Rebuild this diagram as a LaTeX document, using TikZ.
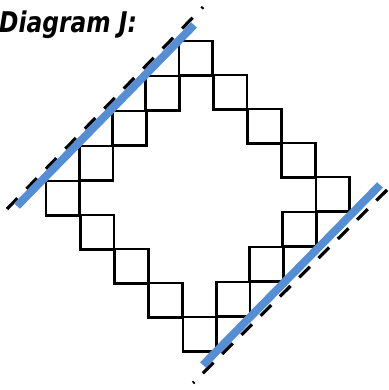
\documentclass[tikz,border=0pt]{standalone}
\usepackage{fontspec}
\newfontfamily\titlefont{DejaVu Sans}
\usepackage{graphicx}
\definecolor{lineblue}{RGB}{85,142,213}
\begin{document}
\begin{tikzpicture}[x=1pt,y=-1pt,
  cell/.style={draw=black,line width=2.6pt},
  bluebar/.style={draw=lineblue,line width=8pt},
  dashline/.style={draw=black,line width=3.2pt}]
\useasboundingbox (0,0) rectangle (388,390);
\node[anchor=base west,inner sep=0pt] (title) at (-1,33)
  {\scalebox{0.82}[1]{\titlefont\bfseries\itshape\fontsize{28.5}{31}\selectfont Diagram J:}};
% squares
\foreach \i/\j in {0/0,0/1,0/2,0/3,0/4,1/4,2/4,3/4,4/4,4/3,4/2,4/1,4/0,3/0,2/0,1/0}{
  \draw[cell] ({46+34.25*\i+33.25*\j},{181+34*\i-35*\j}) rectangle ++(33.75,34.5);
}
% dashed lines
\coordinate (ulA) at (7,209);
\coordinate (ulB) at (203,7);
\coordinate (lrA) at (387,190);
\coordinate (lrB) at (193,383);
\draw[dashline,dash pattern=on 15pt off 12.95pt] (ulA) -- (ulB);
\draw[dashline,dash pattern=on 15pt off 12.2pt] (lrA) -- (lrB);
% blue lines
\coordinate (bulA) at (17,206);
\coordinate (bulB) at (194,25);
\coordinate (blrA) at (203,365);
\coordinate (blrB) at (380,185);
\draw[bluebar] (bulA) -- (bulB);
\draw[bluebar] (blrA) -- (blrB);
\end{tikzpicture}
\end{document}
